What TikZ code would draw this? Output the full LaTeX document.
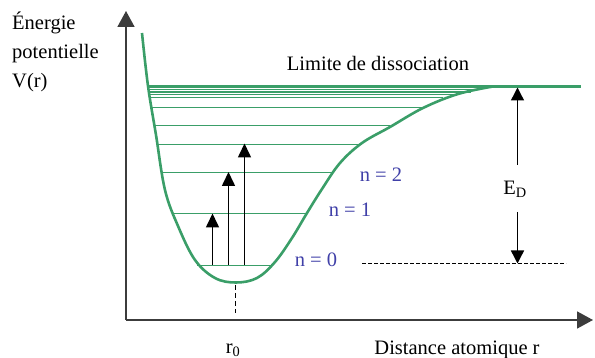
\documentclass[tikz,border=0pt]{standalone}
\usepackage{fontspec}
\setmainfont{Liberation Serif}
\usetikzlibrary{arrows.meta}
\definecolor{curvegreen}{RGB}{58,158,104}
\definecolor{levelblue}{RGB}{64,64,168}
\definecolor{axisgray}{RGB}{60,60,60}
\tikzset{
  axisline/.style={draw=axisgray, line width=1.7pt, -{Triangle[width=17pt,length=16pt]}},
  vibarrow/.style={draw=black, line width=1.6pt, -{Triangle[width=13pt,length=14pt]}},
  edarrow/.style={draw=black, line width=1.4pt, -{Triangle[width=13pt,length=13pt]}},
  potential/.style={draw=curvegreen, line width=2.6pt, line join=round},
  level/.style={draw=curvegreen, line width=1.7pt},
  limitline/.style={draw=curvegreen, line width=2.5pt},
  lbl/.style={font=\fontsize{20.5}{24}\selectfont, inner sep=0pt},
  nlbl/.style={lbl, text=levelblue},
  refdash/.style={draw=black, line width=1.2pt, dash pattern=on 3.5pt off 2.5pt},
}
\begin{document}
\begin{tikzpicture}[x=1pt,y=-1pt]
\useasboundingbox (0,0) rectangle (595,358);
% axes
\coordinate (O) at (126,320);
\coordinate (ytop) at (126,11);
\coordinate (xend) at (593,320);
\draw[axisline] (O) -- (ytop);
\draw[axisline] (O) -- (xend);
% vibrational levels
\foreach \yy/\xl/\xr in {89.5/149/480, 92/149/471, 94.5/149.5/459, 97.5/150/443, 107.5/151.5/423, 125.5/154/390, 144.5/158/360, 172.5/163/333, 213.5/174/307, 265.5/197/273}{
  \draw[level] (\xl,\yy) -- (\xr,\yy);
}
% dissociation limit
\coordinate (limL) at (148,86.5);
\coordinate (limR) at (581,86.5);
\draw[limitline] (limL) -- (limR);
% potential curve
\draw[potential] plot[smooth, tension=0.6] coordinates {
 (142,33) (148,86) (156,135) (165,190) (178,226) (195,260) (215,278)
 (236,282.5) (257,278) (275,262) (292,238) (307,213) (322,189) (340,163)
 (362,143) (390,127) (423,108) (458,94) (493,86.5)};
% vibrational transitions
\coordinate (a1s) at (212.5,265); \coordinate (a1e) at (212.5,213.5);
\coordinate (a2s) at (228.5,265); \coordinate (a2e) at (228.5,172);
\coordinate (a3s) at (244.5,265); \coordinate (a3e) at (244.5,143.5);
\draw[vibarrow] (a1s) -- (a1e);
\draw[vibarrow] (a2s) -- (a2e);
\draw[vibarrow] (a3s) -- (a3e);
% dissociation energy
\node[lbl] (ED) at (515,189) {E\textsubscript{D}};
\coordinate (EDtop) at (517.5,87.5);
\coordinate (EDbot) at (517.5,263.5);
\draw[edarrow] (517.5,165) -- (EDtop);
\draw[edarrow] (517.5,212) -- (EDbot);
\coordinate (dL) at (362,263.5);
\coordinate (dR) at (566,263.5);
\draw[refdash] (dL) -- (dR);
% r0 marker
\coordinate (r0t) at (235.5,285);
\coordinate (r0b) at (235.5,313);
\draw[draw=black, line width=1.1pt, dash pattern=on 5pt off 3pt] (r0t) -- (r0b);
% labels
\node[nlbl] (n2) at (381,175) {n = 2};
\node[nlbl] (n1) at (350,210) {n = 1};
\node[nlbl] (n0) at (316,260) {n = 0};
\node[lbl, anchor=base] (lim) at (378,71) {Limite de dissociation};
\node[lbl, anchor=base west] (yl1) at (12,30) {Énergie};
\node[lbl, anchor=base west] (yl2) at (12,59) {potentielle};
\node[lbl, anchor=base west] (yl3) at (12,88) {V(r)};
\node[lbl, anchor=base] (r0) at (233,353) {r\textsubscript{0}};
\node[lbl, anchor=base] (xl) at (457,355) {Distance atomique r};
\end{tikzpicture}
\end{document}
